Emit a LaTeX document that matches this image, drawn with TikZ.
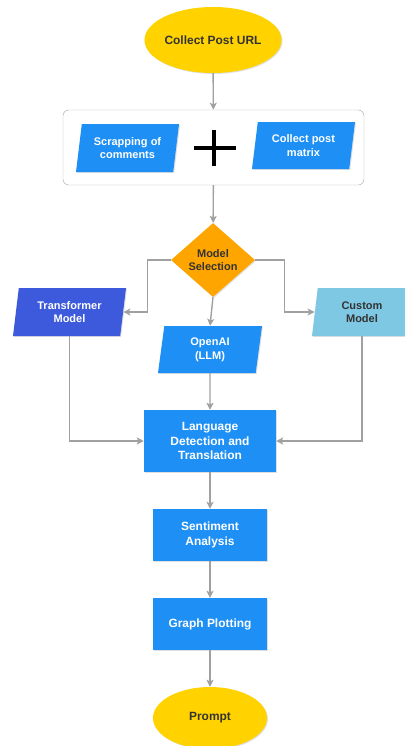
\documentclass[tikz,border=0pt]{standalone}
\usepackage{fontspec}
\setmainfont{Liberation Sans}
\usetikzlibrary{shapes.geometric,arrows.meta,shadows}
\definecolor{linegray}{HTML}{A0A0A0}
\definecolor{termyellow}{HTML}{FFD200}
\definecolor{stepblue}{HTML}{1E90F5}
\definecolor{transblue}{HTML}{3D5ADC}
\definecolor{custblue}{HTML}{7EC8E3}
\definecolor{selorange}{HTML}{FFA500}
\definecolor{darktext}{HTML}{333333}
\tikzset{>={Stealth[length=6pt,width=6pt,inset=1.5pt]}}
\tikzset{
	arr/.style={draw=linegray, line width=1.2pt, ->},
	shade/.style={drop shadow={shadow xshift=0.8pt, shadow yshift=-0.8pt, opacity=0.25}},
	bigtext/.style={font=\bfseries\fontsize{10.2}{12.4}\selectfont, align=center},
	smalltext/.style={font=\bfseries\fontsize{9.4}{11.6}\selectfont, align=center},
	term/.style={ellipse, fill=termyellow, text=darktext, inner sep=0pt, shade, bigtext},
	box/.style={rectangle, fill=stepblue, text=white, inner sep=0pt, shade, bigtext},
	slant/.style={trapezium, trapezium left angle=75, trapezium right angle=105,
		trapezium stretches body=true, inner sep=0pt, shade, smalltext}
}

\begin{document}
\begin{tikzpicture}[x=0.03cm,y=-0.03cm]
	\useasboundingbox (0,0) rectangle (405,746);

	\node[term, minimum width=3.9cm, minimum height=1.98cm] (start) at (213,40) {Collect Post URL};

	% gathering of the data
	\node[draw=linegray!80, rounded corners=5pt, fill=white, minimum width=9.03cm, minimum height=2.25cm] (collect) at (213.5,147.5) {};
	\node[slant, fill=stepblue, text=white, minimum width=3.09cm, minimum height=1.44cm] (scrap) at (127.5,148) {Scrapping of\\comments};
	\node[slant, fill=stepblue, text=white, minimum width=3.09cm, minimum height=1.41cm] (matrix) at (303.5,145.5) {Collect post\\matrix};
	\draw[line width=3.3pt] (194,148) -- (236,148) (214,130) -- (214,166);

	\node[diamond, fill=selorange, text=darktext, inner sep=0pt, minimum width=2.52cm, minimum height=2.22cm, shade, smalltext] (model) at (213,260) {Model\\Selection};

	\node[slant, fill=transblue, text=white, minimum width=3.39cm, minimum height=1.44cm] (trans) at (69.5,312) {Transformer\\Model};
	\node[slant, fill=stepblue, text=white, minimum width=3.12cm, minimum height=1.41cm] (llm) at (210,349.5) {OpenAI\\(LLM)};
	\node[slant, fill=custblue, text=darktext, minimum width=3.0cm, minimum height=1.44cm] (cust) at (362,312) {Custom\\Model};

	\node[box, minimum width=3.96cm, minimum height=1.86cm] (lang) at (210,441) {Language\\Detection and\\Translation};
	\node[box, minimum width=3.42cm, minimum height=1.56cm] (sent) at (210,535) {Sentiment\\Analysis};
	\node[box, minimum width=3.42cm, minimum height=1.56cm] (graph) at (210,624) {Graph Plotting};
	\node[term, minimum width=3.42cm, minimum height=1.86cm] (prompt) at (210,718) {Prompt};

	% arrows
	\draw[arr] (start) -- (collect);
	\draw[arr] (collect) -- (model);
	\draw[arr] (model.west) -- ++(-23,0) |- (trans.east);
	\draw[arr] (model.east) -- ++(29,0) |- (cust.west);
	\draw[arr] (model.south) -- (llm.north);
	\draw[arr] (llm.south) -- (lang.north);
	\draw[arr] (trans.south) |- (lang.west);
	\draw[arr] (cust.south) |- (lang.east);
	\foreach \a/\b in {lang/sent, sent/graph, graph/prompt} {
		\draw[arr] (\a) -- (\b);
	}
\end{tikzpicture}
\end{document}
